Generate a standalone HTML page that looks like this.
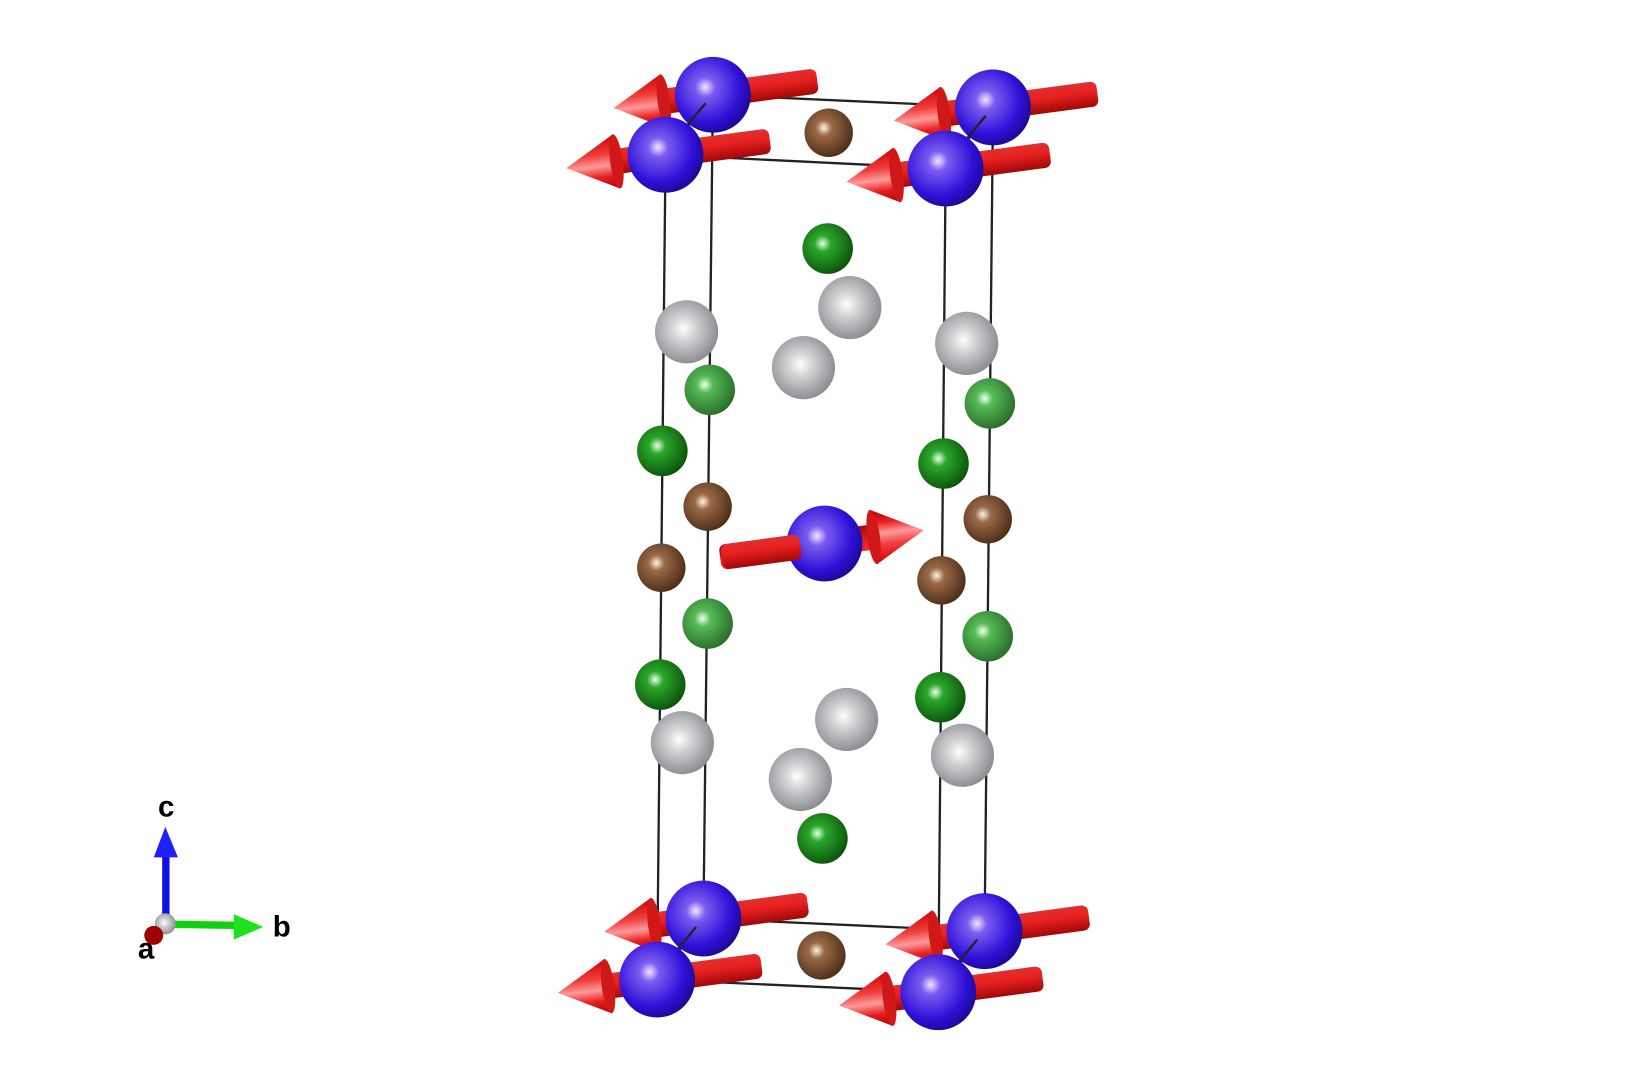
<!DOCTYPE html>
<html><head><meta charset="utf-8"><style>html,body{margin:0;padding:0;background:#fff}svg{display:block}</style></head>
<body>
<svg width="1648" height="1086" viewBox="0 0 1565 1031" preserveAspectRatio="none" xmlns="http://www.w3.org/2000/svg">
<defs>
<radialGradient id="gB" cx="0.4" cy="0.4" r="0.65"><stop offset="0" stop-color="#f4e6ff"/><stop offset="0.2" stop-color="#7a5cf0"/><stop offset="0.7" stop-color="#3010d8"/><stop offset="1" stop-color="#1a0890"/></radialGradient>
<radialGradient id="gBr" cx="0.4" cy="0.4" r="0.65"><stop offset="0" stop-color="#fff4e8"/><stop offset="0.25" stop-color="#9a6a48"/><stop offset="1" stop-color="#4a2a14"/></radialGradient>
<radialGradient id="gG" cx="0.4" cy="0.4" r="0.65"><stop offset="0" stop-color="#eaffea"/><stop offset="0.25" stop-color="#2aa82a"/><stop offset="1" stop-color="#0a500a"/></radialGradient>
<radialGradient id="gLG" cx="0.4" cy="0.4" r="0.65"><stop offset="0" stop-color="#f0fff0"/><stop offset="0.25" stop-color="#55bb55"/><stop offset="1" stop-color="#286a28"/></radialGradient>
<radialGradient id="gW" cx="0.45" cy="0.45" r="0.65"><stop offset="0" stop-color="#ffffff"/><stop offset="0.3" stop-color="#d0d2d4"/><stop offset="1" stop-color="#7a7c80"/></radialGradient>
<linearGradient id="gR" x1="0" y1="0" x2="0" y2="1"><stop offset="0" stop-color="#e03030"/><stop offset="0.4" stop-color="#e82020"/><stop offset="1" stop-color="#a00808"/></linearGradient>
<linearGradient id="gC" x1="0" y1="0" x2="0" y2="1"><stop offset="0" stop-color="#d00000"/><stop offset="0.35" stop-color="#f04040"/><stop offset="0.55" stop-color="#ff9a9a"/><stop offset="0.75" stop-color="#e82020"/><stop offset="1" stop-color="#b00000"/></linearGradient>
<g id="arr">
<rect x="-50" y="-12" width="150" height="24" rx="6" fill="url(#gR)"/>
<polygon points="-95,0 -47,-26 -47,26" fill="url(#gC)"/>
<ellipse cx="-47" cy="0" rx="6" ry="26" fill="#d01818"/>
</g>
</defs>
<g stroke="#222" stroke-width="2.2" fill="none">
<polygon points="677,90 943,102 898,160 632,147"/>
<polygon points="668,872 935,884 891,942 624,930"/>
<line x1="632" y1="147" x2="624" y2="930"/><line x1="677" y1="90" x2="668" y2="872"/>
<line x1="943" y1="102" x2="935" y2="884"/><line x1="898" y1="160" x2="891" y2="942"/>
</g>
<g>
<circle cx="807" cy="292" r="30" fill="url(#gW)"/><circle cx="763" cy="349" r="30" fill="url(#gW)"/>
<circle cx="652" cy="315" r="30" fill="url(#gW)"/><circle cx="918" cy="326" r="30" fill="url(#gW)"/>
<circle cx="804" cy="683" r="30" fill="url(#gW)"/><circle cx="760" cy="740" r="30" fill="url(#gW)"/>
<circle cx="648" cy="705" r="30" fill="url(#gW)"/><circle cx="914" cy="717" r="30" fill="url(#gW)"/>
<circle cx="786" cy="236" r="24" fill="url(#gG)"/><circle cx="629" cy="428" r="24" fill="url(#gG)"/>
<circle cx="896" cy="440" r="24" fill="url(#gG)"/><circle cx="627" cy="650" r="24" fill="url(#gG)"/>
<circle cx="893" cy="662" r="24" fill="url(#gG)"/><circle cx="781" cy="796" r="24" fill="url(#gG)"/>
<circle cx="674" cy="370" r="24" fill="url(#gLG)"/><circle cx="940" cy="383" r="24" fill="url(#gLG)"/>
<circle cx="672" cy="592" r="24" fill="url(#gLG)"/><circle cx="938" cy="604" r="24" fill="url(#gLG)"/>
<circle cx="787" cy="126" r="23" fill="url(#gBr)"/><circle cx="672" cy="481" r="23" fill="url(#gBr)"/>
<circle cx="628" cy="539" r="23" fill="url(#gBr)"/><circle cx="938" cy="493" r="23" fill="url(#gBr)"/>
<circle cx="894" cy="551" r="23" fill="url(#gBr)"/><circle cx="780" cy="907" r="23" fill="url(#gBr)"/>
</g>
<g>
<use href="#arr" transform="translate(677,90) rotate(-7.6)"/><circle cx="677" cy="90" r="36" fill="url(#gB)"/>
<use href="#arr" transform="translate(943,102) rotate(-7.6)"/><circle cx="943" cy="102" r="36" fill="url(#gB)"/>
<line x1="670" y1="98" x2="650" y2="122" stroke="#222" stroke-width="2.2"/>
<line x1="936" y1="110" x2="916" y2="134" stroke="#222" stroke-width="2.2"/>
<use href="#arr" transform="translate(632,147) rotate(-7.6)"/><circle cx="632" cy="147" r="36" fill="url(#gB)"/>
<use href="#arr" transform="translate(898,160) rotate(-7.6)"/><circle cx="898" cy="160" r="36" fill="url(#gB)"/>
<use href="#arr" transform="translate(783,516) rotate(172.4)"/><circle cx="783" cy="516" r="36" fill="url(#gB)"/>
<rect x="-98" y="-12" width="75" height="24" rx="6" fill="url(#gR)" transform="translate(783,516) rotate(-7.6)"/>
<use href="#arr" transform="translate(668,872) rotate(-7.6)"/><circle cx="668" cy="872" r="36" fill="url(#gB)"/>
<use href="#arr" transform="translate(935,884) rotate(-7.6)"/><circle cx="935" cy="884" r="36" fill="url(#gB)"/>
<line x1="661" y1="880" x2="641" y2="904" stroke="#222" stroke-width="2.2"/>
<line x1="928" y1="892" x2="908" y2="916" stroke="#222" stroke-width="2.2"/>
<use href="#arr" transform="translate(624,930) rotate(-7.6)"/><circle cx="624" cy="930" r="36" fill="url(#gB)"/>
<use href="#arr" transform="translate(891,942) rotate(-7.6)"/><circle cx="891" cy="942" r="36" fill="url(#gB)"/>
</g>
<g>
<rect x="154" y="810" width="7" height="60" fill="#1010e0"/>
<polygon points="157,785 146,814 169,814" fill="#2020ff"/>
<rect x="165" y="874" width="62" height="7" fill="#10d010" transform="rotate(1 165 877)"/>
<polygon points="250,880 222,868 222,892" fill="#20e020"/>
<circle cx="157" cy="877" r="10" fill="url(#gW)"/>
<circle cx="146" cy="888" r="9" fill="#a00000"/>
<g font-family="Liberation Sans, sans-serif" font-weight="bold" font-size="28" fill="#000">
<text x="150" y="775">c</text><text x="259" y="889">b</text><text x="131" y="910">a</text>
</g>
</g>
</svg>
</body></html>
